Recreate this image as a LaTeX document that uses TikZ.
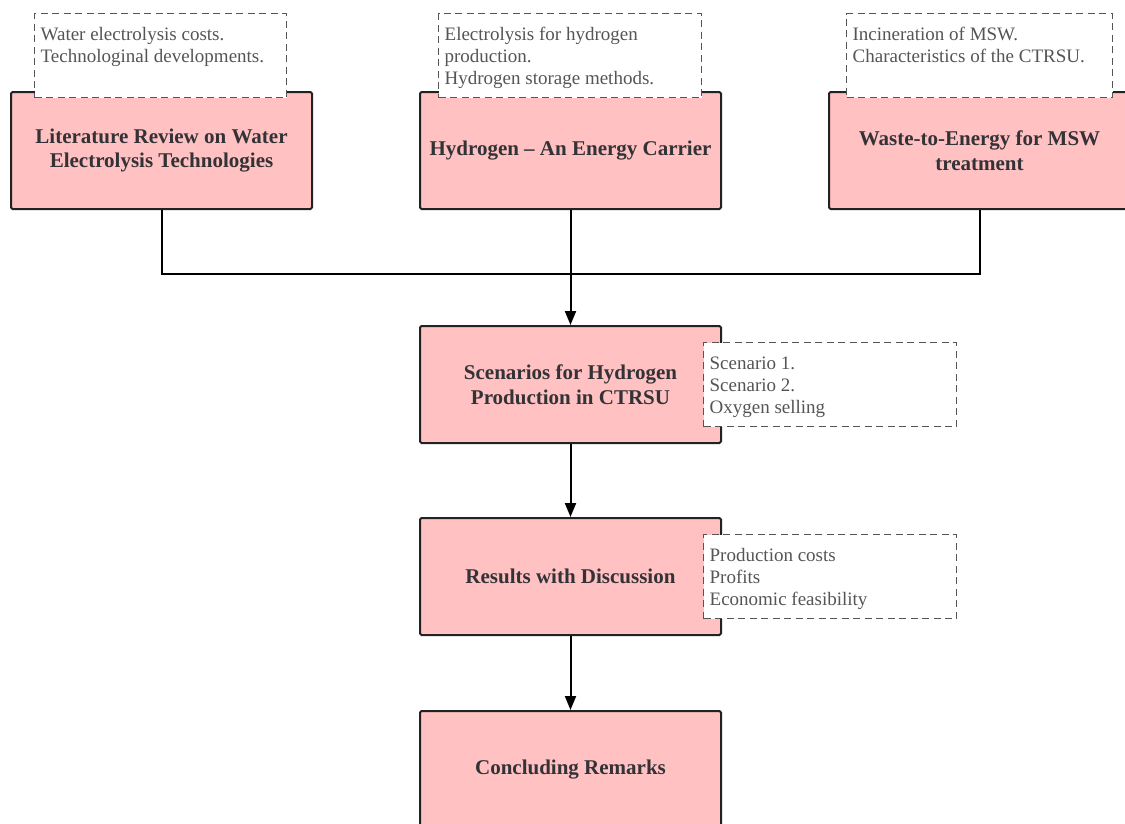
\documentclass[tikz,border=0pt]{standalone}
\usepackage{fontspec}
\setmainfont{Liberation Serif}
\usetikzlibrary{arrows.meta}
\definecolor{boxpink}{RGB}{255,193,193}
\definecolor{boxedge}{RGB}{34,34,34}
\definecolor{textdark}{RGB}{50,50,55}
\definecolor{notegray}{RGB}{85,85,85}
% top-aligned note text of fixed size; the strut sets the first baseline
\newcommand{\notebody}[2]{\parbox[t][84pt][t]{#1}{\rule{0pt}{27pt}#2}}
\begin{document}
\begin{tikzpicture}[x=1pt,y=-1pt,
  stagebox/.style={draw=boxedge, fill=boxpink, line width=2pt, rounded corners=1.5pt,
    minimum width=301pt, minimum height=117pt, inner sep=0pt, anchor=north west,
    align=center, text=textdark, font=\bfseries\fontsize{21}{24.5}\selectfont},
  notebox/.style={draw=notegray, fill=white, line width=1.3pt, dash pattern=on 7pt off 4.5pt,
    inner xsep=6pt, inner ysep=0pt, anchor=north west, text=notegray,
    font=\fontsize{19}{22}\selectfont},
  flow/.style={draw=black, line width=2pt, -{Triangle[length=14pt,width=11pt]}},
  link/.style={draw=black, line width=2pt}]
\useasboundingbox (0,0) rectangle (1125,823);
\clip (0,0) rectangle (1125,823);

% top row of topics
\node[stagebox] (lit) at (10,91) {Literature Review on Water\\Electrolysis Technologies};
\node[stagebox] (hyd) at (419,91) {Hydrogen -- An Energy Carrier};
\node[stagebox] (wte) at (828,91) {Waste-to-Energy for MSW\\treatment};

% main chain
\node[stagebox] (scen) at (419,325) {Scenarios for Hydrogen\\Production in CTRSU};
\node[stagebox] (res) at (419,517) {Results with Discussion};
\node[stagebox] (conc) at (419,710) {Concluding Remarks};

% dashed notes
\node[notebox] (nlit) at (34,13) {\notebody{240pt}{Water electrolysis costs.\\Technologinal developments.}};
\node[notebox] (nhyd) at (438,13) {\notebody{251pt}{Electrolysis for hydrogen\\production.\\Hydrogen storage methods.}};
\node[notebox] (nwte) at (846,13) {\notebody{254pt}{Incineration of MSW.\\Characteristics of the CTRSU.}};
\node[notebox] (nscen) at (703,342) {\notebody{241pt}{Scenario 1.\\Scenario 2.\\Oxygen selling}};
\node[notebox] (nres) at (703,534) {\notebody{241pt}{Production costs\\Profits\\Economic feasibility}};

% connectors
\coordinate (merge) at (570,274);
\draw[link] (lit.south) |- (merge) -| (wte.south);
\draw[flow] (hyd.south) -- (scen.north);
\draw[flow] (scen.south) -- (res.north);
\draw[flow] (res.south) -- (conc.north);
\end{tikzpicture}
\end{document}
